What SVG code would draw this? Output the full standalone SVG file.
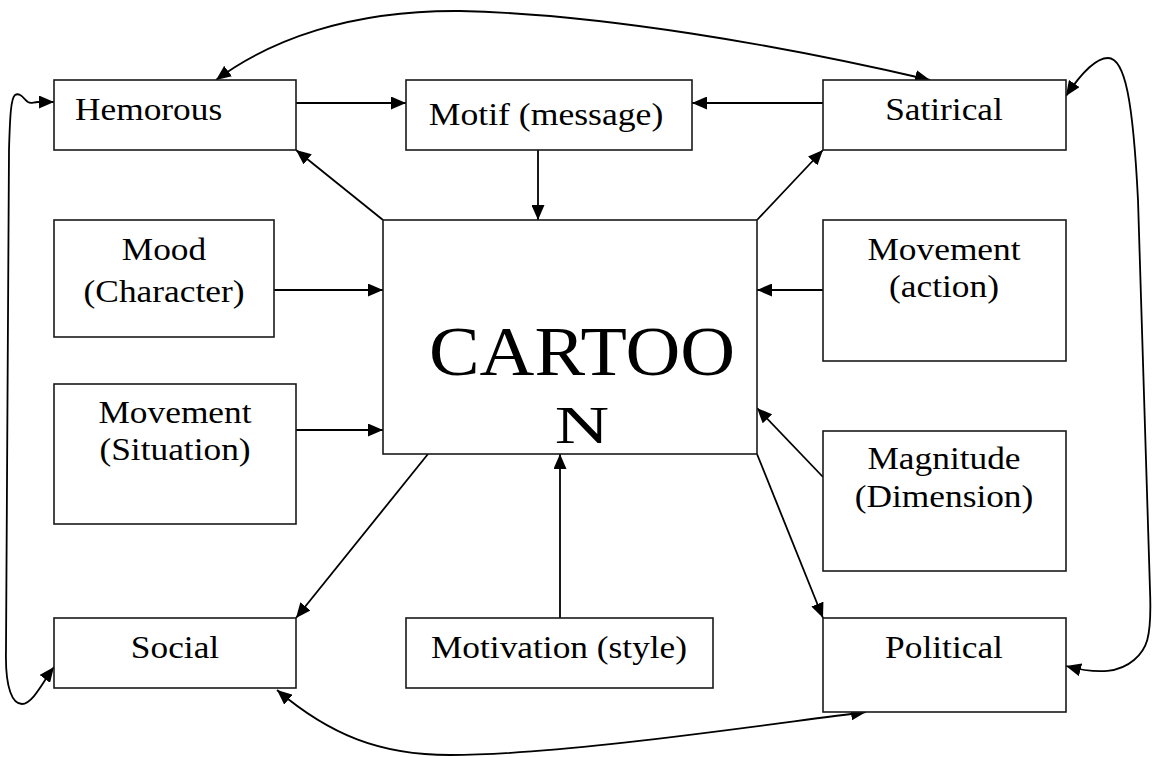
<svg xmlns="http://www.w3.org/2000/svg" width="1152" height="757" viewBox="0 0 1152 757">
<style>
.box{fill:#fff;stroke:#1a1a1a;stroke-width:1.6}
.t{font-family:"Liberation Serif","Times New Roman",serif;font-size:31px;fill:#000;text-anchor:middle}
.big{font-size:69px}
.n{font-size:52px}
.c{fill:none;stroke:#000;stroke-width:1.8}
</style>
<defs>
<marker id="ah" viewBox="0 0 15 13" refX="15" refY="6.5" markerWidth="15" markerHeight="13" markerUnits="userSpaceOnUse" orient="auto-start-reverse">
<path d="M0,0 L15,6.5 L0,13 z" fill="#000"/>
</marker>
</defs>
<rect width="1152" height="757" fill="#fff"/>
<g id="connectors">
<path class="c" d="M296,103 L406,103" marker-end="url(#ah)"/>
<path class="c" d="M823,103 L692,103" marker-end="url(#ah)"/>
<path class="c" d="M538,150 L538,220" marker-end="url(#ah)"/>
<path class="c" d="M383,220 L296,150" marker-end="url(#ah)"/>
<path class="c" d="M757,220 L823,150" marker-end="url(#ah)"/>
<path class="c" d="M274,290 L383,290" marker-end="url(#ah)"/>
<path class="c" d="M296,430 L383,430" marker-end="url(#ah)"/>
<path class="c" d="M823,290 L757,290" marker-end="url(#ah)"/>
<path class="c" d="M823,477 L757,408" marker-end="url(#ah)"/>
<path class="c" d="M560,618 L560,454" marker-end="url(#ah)"/>
<path class="c" d="M428,454 L296,618" marker-end="url(#ah)"/>
<path class="c" d="M757,454 L823,618" marker-end="url(#ah)"/>
<path class="c" d="M216,80 C270,40 350,10 460,11 C600,14 780,45 930,80" marker-start="url(#ah)" marker-end="url(#ah)"/>
<path class="c" d="M277,690 C330,735 380,755 450,755 C560,755 740,728 866,712" marker-start="url(#ah)" marker-end="url(#ah)"/>
<path class="c" d="M54,102 L38,102 C33,102 31,104 28,102 C24,99 20,92 15,95 C11,98 10,115 9,150 L6,650 C5,690 13,704 22,704 C33,704 44,680 54,667" marker-start="url(#ah)" marker-end="url(#ah)"/>
<path class="c" d="M1066,96 C1080,75 1095,58 1108,58 C1125,58 1133,100 1138,200 L1150,590 C1152,640 1146,650 1134,660 C1120,672 1100,675 1066,666" marker-start="url(#ah)" marker-end="url(#ah)"/>
</g>
<g id="hemorous"><rect class="box" x="54" y="80" width="242" height="70"/><text class="t" style="text-anchor:start" transform="translate(75,120) scale(1.14,1)">Hemorous</text></g>
<g id="motif"><rect class="box" x="406" y="80" width="286" height="70"/><text class="t" transform="translate(546,125) scale(1.15,1)">Motif (message)</text></g>
<g id="satirical"><rect class="box" x="823" y="80" width="243" height="70"/><text class="t" transform="translate(944,120) scale(1.14,1)">Satirical</text></g>
<g id="mood"><rect class="box" x="54" y="220" width="220" height="117"/><text class="t" transform="translate(164,260) scale(1.14,1)">Mood</text><text class="t" transform="translate(164,302) scale(1.14,1)">(Character)</text></g>
<g id="movement-situation"><rect class="box" x="54" y="384" width="242" height="140"/><text class="t" transform="translate(175,423) scale(1.14,1)">Movement</text><text class="t" transform="translate(175,460) scale(1.14,1)">(Situation)</text></g>
<g id="cartoon"><rect class="box" x="383" y="220" width="374" height="234"/><text class="t big" transform="translate(582,375) scale(1.1,1)">CARTOO</text><text class="t n" transform="translate(582,443) scale(1.45,1)">N</text></g>
<g id="movement-action"><rect class="box" x="823" y="220" width="243" height="141"/><text class="t" transform="translate(944,260) scale(1.14,1)">Movement</text><text class="t" transform="translate(944,297) scale(1.14,1)">(action)</text></g>
<g id="magnitude"><rect class="box" x="823" y="431" width="243" height="140"/><text class="t" transform="translate(944,469) scale(1.14,1)">Magnitude</text><text class="t" transform="translate(944,507) scale(1.14,1)">(Dimension)</text></g>
<g id="social"><rect class="box" x="54" y="618" width="242" height="70"/><text class="t" transform="translate(175,658) scale(1.14,1)">Social</text></g>
<g id="motivation"><rect class="box" x="406" y="618" width="307" height="70"/><text class="t" transform="translate(559,658) scale(1.14,1)">Motivation (style)</text></g>
<g id="political"><rect class="box" x="823" y="618" width="243" height="94"/><text class="t" transform="translate(944,658) scale(1.14,1)">Political</text></g>
</svg>
